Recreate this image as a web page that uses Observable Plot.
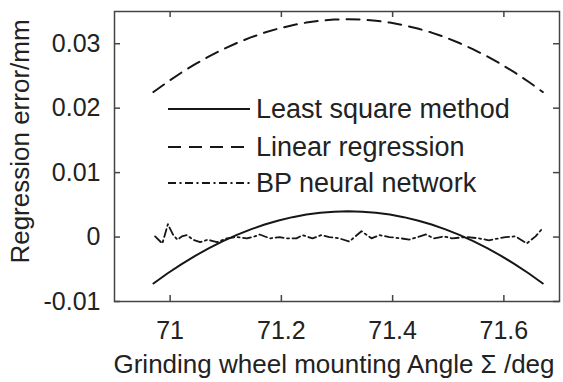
<!DOCTYPE html>
<html>
<head>
<meta charset="utf-8">
<script src="https://cdn.jsdelivr.net/npm/d3@7"></script>
<script src="https://cdn.jsdelivr.net/npm/@observablehq/plot@0.6"></script>
<style>
  html, body { margin: 0; padding: 0; background: #fff; }
  #wrap { position: relative; width: 563px; height: 382px; font-family: "Liberation Sans", Arial, sans-serif; }
  #legend { position: absolute; left: 166px; top: 94px; }
  .row { position: absolute; left: 0; height: 30px; white-space: nowrap; display: flex; align-items: center; }
  .row svg { display: block; }
  .row span { font-size: 27px; color: #222; margin-left: 6px; }
</style>
</head>
<body>
<div id="wrap"></div>
<script>
// ---- data ----
const xFit = [70.97,70.995,71.02,71.045,71.07,71.095,71.12,71.145,71.17,71.195,71.22,71.245,71.27,71.295,71.32,71.345,71.37,71.395,71.42,71.445,71.47,71.495,71.52,71.545,71.57,71.595,71.62,71.645,71.67];
const leastSquare = [-0.0072,-0.00565,-0.00423,-0.00291,-0.00171,-0.00063,0.00034,0.0012,0.00194,0.00257,0.00309,0.00349,0.00377,0.00394,0.004,0.00394,0.00377,0.00349,0.00309,0.00257,0.00194,0.0012,0.00034,-0.00063,-0.00171,-0.00291,-0.00423,-0.00565,-0.0072];
const linearRegression = [0.0225,0.02406,0.0255,0.02683,0.02804,0.02913,0.03011,0.03098,0.03173,0.03236,0.03288,0.03328,0.03357,0.03374,0.0338,0.03374,0.03357,0.03328,0.03288,0.03236,0.03173,0.03098,0.03011,0.02913,0.02804,0.02683,0.0255,0.02406,0.0225];
const xBP = [70.973,70.986,70.996,71.005,71.013,71.021,71.030,71.041,71.054,71.068,71.084,71.102,71.120,71.138,71.152,71.161,71.179,71.197,71.209,71.227,71.238,71.256,71.272,71.286,71.304,71.322,71.344,71.362,71.376,71.394,71.415,71.430,71.460,71.474,71.492,71.507,71.532,71.555,71.573,71.603,71.621,71.641,71.657,71.668];
const bpNetwork = [0.0001,-0.001,0.002,0.0004,-0.0004,0.0001,0.0003,-0.0004,-0.0008,-0.0004,-0.0008,-0.0002,0,-0.0002,0.0001,0.0004,-0.0002,0,-0.0002,-0.0002,0.0003,-0.0002,0.0003,0,-0.0002,-0.0007,0.0009,-0.0002,0.0003,0,-0.0002,-0.0004,0.0004,-0.0002,0.0001,-0.0002,0,-0.0002,-0.0005,0,0.0001,-0.001,0.0001,0.0012];
const xTicks = [71, 71.2, 71.4, 71.6];
const yTicks = [-0.01, 0, 0.01, 0.02, 0.03];
const seriesNames = ["Least square method", "Linear regression", "BP neural network"];
const xLabel = "Grinding wheel mounting Angle \u03A3 /deg";
const yLabel = "Regression error/mm";

const fitData = xFit.map((x, i) => ({x, ls: leastSquare[i], lr: linearRegression[i]}));
const bpData = xBP.map((x, i) => ({x, y: bpNetwork[i]}));

const W = 563, H = 382, mL = 114, mR = 4, mT = 11, mB = 81;
const tickLen = 6;
const innerW = W - mL - mR, innerH = H - mT - mB;
const lineColor = "#161616";
const dashed = "13,8";
const dashDot = "8,3.5,2,3.5";

const chart = Plot.plot({
  width: W, height: H,
  marginLeft: mL, marginRight: mR, marginTop: mT, marginBottom: mB,
  style: {fontFamily: "'Liberation Sans', Arial, sans-serif", fontSize: "25px", color: "#222", background: "#fff"},
  x: {domain: [70.9, 71.7]},
  y: {domain: [-0.01, 0.035]},
  marks: [
    Plot.line(fitData, {x: "x", y: "ls", stroke: lineColor, strokeWidth: 2}),
    Plot.line(fitData, {x: "x", y: "lr", stroke: lineColor, strokeWidth: 2, strokeDasharray: dashed}),
    Plot.line(bpData, {x: "x", y: "y", stroke: lineColor, strokeWidth: 1.8, strokeDasharray: dashDot}),
    Plot.frame({stroke: "#444", strokeWidth: 1.5}),
    // inward ticks on all four sides
    Plot.tickX(xTicks, {x: d => d, stroke: "#444", strokeWidth: 1.5, insetTop: innerH - tickLen}),
    Plot.tickX(xTicks, {x: d => d, stroke: "#444", strokeWidth: 1.5, insetBottom: innerH - tickLen}),
    Plot.tickY(yTicks, {y: d => d, stroke: "#444", strokeWidth: 1.5, insetRight: innerW - tickLen}),
    Plot.tickY(yTicks, {y: d => d, stroke: "#444", strokeWidth: 1.5, insetLeft: innerW - tickLen}),
    Plot.axisX(xTicks, {anchor: "bottom", tickSize: 0, tickPadding: 20, label: null, tickFormat: d => String(d), fill: "#222"}),
    Plot.axisY(yTicks, {anchor: "left", tickSize: 0, tickPadding: 14, label: null, tickFormat: d => String(d), fill: "#222"}),
    Plot.text([xLabel], {frameAnchor: "bottom", text: d => d, dy: 63, dx: -3, fontSize: 26, fill: "#222", lineAnchor: "middle", textAnchor: "middle"}),
    Plot.text([yLabel], {frameAnchor: "left", text: d => d, dx: -94, dy: -15, rotate: -90, fontSize: 26, fill: "#222", lineAnchor: "middle", textAnchor: "middle"})
  ]
});

const wrap = document.getElementById("wrap");
wrap.appendChild(chart);

// legend (inside plot area, no box)
const legend = document.createElement("div");
legend.id = "legend";
const dashes = [null, dashed, dashDot];
const rowTops = [0, 38, 74];
seriesNames.forEach((name, i) => {
  const row = document.createElement("div");
  row.className = "row";
  row.style.top = rowTops[i] + "px";
  const svgNS = "http://www.w3.org/2000/svg";
  const s = document.createElementNS(svgNS, "svg");
  s.setAttribute("width", 84); s.setAttribute("height", 30);
  const l = document.createElementNS(svgNS, "line");
  l.setAttribute("x1", 2); l.setAttribute("x2", 84);
  l.setAttribute("y1", 15); l.setAttribute("y2", 15);
  l.setAttribute("stroke", lineColor); l.setAttribute("stroke-width", 2);
  if (dashes[i]) l.setAttribute("stroke-dasharray", dashes[i]);
  s.appendChild(l);
  const t = document.createElement("span");
  t.textContent = name;
  row.appendChild(s); row.appendChild(t);
  legend.appendChild(row);
});
wrap.appendChild(legend);
</script>
</body>
</html>
